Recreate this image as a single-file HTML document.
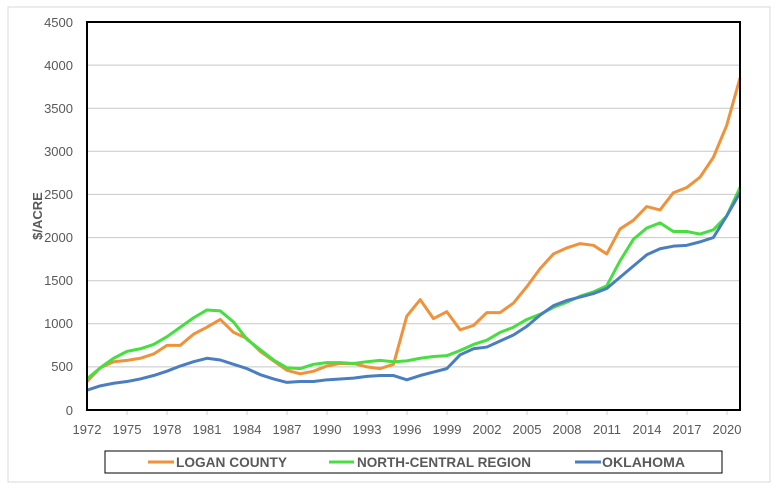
<!DOCTYPE html>
<html><head><meta charset="utf-8"><style>
html,body{margin:0;padding:0;background:#fff;}
svg{display:block;font-family:"Liberation Sans",sans-serif;}
</style></head><body>
<svg width="783" height="493" viewBox="0 0 783 493" xmlns="http://www.w3.org/2000/svg">
<rect x="8" y="7" width="762" height="475" fill="#fff" stroke="#d9d9d9" stroke-width="1"/>
<g stroke="#c8c8c8" stroke-width="1">
<line x1="87" x2="740" y1="65.1" y2="65.1"/><line x1="87" x2="740" y1="108.2" y2="108.2"/>
<line x1="87" x2="740" y1="151.3" y2="151.3"/><line x1="87" x2="740" y1="194.4" y2="194.4"/>
<line x1="87" x2="740" y1="237.6" y2="237.6"/><line x1="87" x2="740" y1="280.7" y2="280.7"/>
<line x1="87" x2="740" y1="323.8" y2="323.8"/><line x1="87" x2="740" y1="366.9" y2="366.9"/>
</g>
<g stroke="#d0d0d0" stroke-width="1">
<line x1="127" x2="127" y1="410" y2="415"/><line x1="167" x2="167" y1="410" y2="415"/><line x1="207" x2="207" y1="410" y2="415"/><line x1="247" x2="247" y1="410" y2="415"/><line x1="287" x2="287" y1="410" y2="415"/><line x1="327" x2="327" y1="410" y2="415"/><line x1="367" x2="367" y1="410" y2="415"/><line x1="407" x2="407" y1="410" y2="415"/><line x1="447" x2="447" y1="410" y2="415"/><line x1="487" x2="487" y1="410" y2="415"/><line x1="527" x2="527" y1="410" y2="415"/><line x1="567" x2="567" y1="410" y2="415"/><line x1="607" x2="607" y1="410" y2="415"/><line x1="647" x2="647" y1="410" y2="415"/><line x1="687" x2="687" y1="410" y2="415"/><line x1="727" x2="727" y1="410" y2="415"/>
</g>
<g font-size="13" fill="#595959" text-anchor="end">
<text x="73" y="27">4500</text><text x="73" y="70">4000</text><text x="73" y="113">3500</text><text x="73" y="156">3000</text><text x="73" y="199">2500</text><text x="73" y="242">2000</text><text x="73" y="285">1500</text><text x="73" y="328">1000</text><text x="73" y="371">500</text><text x="73" y="415">0</text>
</g>
<g font-size="13" fill="#595959" text-anchor="middle">
<text x="87" y="434">1972</text><text x="127" y="434">1975</text><text x="167" y="434">1978</text><text x="207" y="434">1981</text><text x="247" y="434">1984</text><text x="287" y="434">1987</text><text x="327" y="434">1990</text><text x="367" y="434">1993</text><text x="407" y="434">1996</text><text x="447" y="434">1999</text><text x="487" y="434">2002</text><text x="527" y="434">2005</text><text x="567" y="434">2008</text><text x="607" y="434">2011</text><text x="647" y="434">2014</text><text x="687" y="434">2017</text><text x="727" y="434">2020</text>
</g>
<text x="0" y="0" transform="translate(42,216) rotate(-90)" font-size="13" font-weight="bold" fill="#595959" text-anchor="middle">$/ACRE</text>
<g transform="translate(87,410) scale(13.3265,-0.086222)" fill="none" stroke-width="3" stroke-linejoin="round">
<polyline vector-effect="non-scaling-stroke" stroke="#F0923A" points="0,330 1,490 2,560 3,575 4,600 5,650 6,750 7,750 8,880 9,960 10,1050 11,900 12,830 13,680 14,570 15,460 16,420 17,450 18,510 19,540 20,540 21,500 22,480 23,530 24,1090 25,1280 26,1060 27,1140 28,930 29,980 30,1130 31,1130 32,1240 33,1430 34,1640 35,1810 36,1880 37,1930 38,1910 39,1810 40,2100 41,2200 42,2360 43,2320 44,2520 45,2580 46,2700 47,2930 48,3300 49,3850"/>
<polyline vector-effect="non-scaling-stroke" stroke="#47DE3F" points="0,360 1,490 2,600 3,680 4,710 5,760 6,850 7,960 8,1070 9,1160 10,1150 11,1020 12,820 13,700 14,580 15,490 16,480 17,530 18,550 19,550 20,540 21,560 22,575 23,560 24,570 25,600 26,620 27,630 28,690 29,760 30,810 31,900 32,960 33,1050 34,1110 35,1190 36,1250 37,1320 38,1370 39,1440 40,1730 41,1980 42,2110 43,2170 44,2070 45,2070 46,2040 47,2090 48,2250 49,2580"/>
<polyline vector-effect="non-scaling-stroke" stroke="#4A7EC0" points="0,230 1,280 2,310 3,330 4,360 5,400 6,450 7,510 8,560 9,600 10,580 11,530 12,480 13,410 14,360 15,320 16,330 17,330 18,350 19,360 20,370 21,390 22,400 23,400 24,350 25,400 26,440 27,480 28,640 29,710 30,730 31,800 32,870 33,970 34,1100 35,1210 36,1270 37,1310 38,1350 39,1410 40,1540 41,1670 42,1800 43,1870 44,1900 45,1910 46,1950 47,2000 48,2250 49,2520"/>
</g>
<rect x="87" y="22" width="653" height="388" fill="none" stroke="#000" stroke-width="2"/>
<rect x="105" y="451" width="617" height="22" fill="#fff" stroke="#000" stroke-width="1"/>
<g stroke-width="3">
<line x1="148" x2="174" y1="462" y2="462" stroke="#F0923A"/>
<line x1="329" x2="354" y1="462" y2="462" stroke="#47DE3F"/>
<line x1="575" x2="601" y1="462" y2="462" stroke="#4A7EC0"/>
</g>
<g font-size="14" font-weight="bold" fill="#595959">
<text x="176" y="467" textLength="111" lengthAdjust="spacingAndGlyphs">LOGAN COUNTY</text>
<text x="357" y="467" textLength="174" lengthAdjust="spacingAndGlyphs">NORTH-CENTRAL REGION</text>
<text x="602" y="467" textLength="83" lengthAdjust="spacingAndGlyphs">OKLAHOMA</text>
</g>
</svg>
</body></html>
